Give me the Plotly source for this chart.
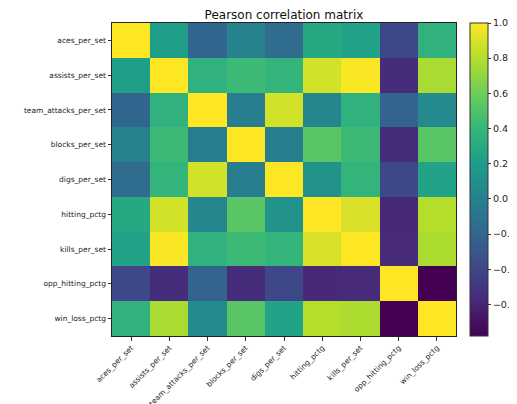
import plotly.graph_objects as go

labels = ["aces_per_set", "assists_per_set", "team_attacks_per_set", "blocks_per_set",
          "digs_per_set", "hitting_pctg", "kills_per_set", "opp_hitting_pctg", "win_loss_pctg"]

aces_per_set = [1.00, 0.22, -0.19, 0.02, -0.16, 0.29, 0.24, -0.39, 0.36]
assists_per_set = [0.22, 1.00, 0.36, 0.43, 0.38, 0.88, 0.99, -0.55, 0.77]
team_attacks_per_set = [-0.19, 0.36, 1.00, -0.03, 0.88, 0.04, 0.36, -0.21, 0.07]
blocks_per_set = [0.02, 0.43, -0.03, 1.00, -0.02, 0.53, 0.43, -0.55, 0.53]
digs_per_set = [-0.16, 0.38, 0.88, -0.02, 1.00, 0.13, 0.38, -0.39, 0.24]
hitting_pctg = [0.29, 0.88, 0.04, 0.53, 0.13, 1.00, 0.90, -0.58, 0.80]
kills_per_set = [0.24, 0.99, 0.36, 0.43, 0.38, 0.90, 1.00, -0.57, 0.78]
opp_hitting_pctg = [-0.39, -0.55, -0.21, -0.55, -0.39, -0.58, -0.57, 1.00, -0.78]
win_loss_pctg = [0.36, 0.77, 0.07, 0.53, 0.24, 0.80, 0.78, -0.78, 1.00]

matrix = [aces_per_set, assists_per_set, team_attacks_per_set, blocks_per_set,
          digs_per_set, hitting_pctg, kills_per_set, opp_hitting_pctg, win_loss_pctg]

cbar_ticks = [-0.6, -0.4, -0.2, 0.0, 0.2, 0.4, 0.6, 0.8, 1.0]

font_family = "DejaVu Sans"

fig = go.Figure(go.Heatmap(
    z=matrix, x=labels, y=labels,
    colorscale="Viridis", zmin=-0.78, zmax=1.0,
    xgap=0, ygap=0,
    colorbar=dict(
        x=1.04, xanchor="left", xref="paper", xpad=0, ypad=0,
        y=0, yanchor="bottom", len=1, lenmode="fraction",
        thickness=18, outlinewidth=1, outlinecolor="#333",
        tickvals=cbar_ticks, ticktext=[f"{v:.1f}".replace("-", "\u2212") for v in cbar_ticks],
        ticks="outside", ticklen=3, tickcolor="#333",
        tickfont=dict(family=font_family, size=9.5, color="#222"),
    ),
))

fig.update_layout(
    width=509, height=396,
    margin=dict(l=104, r=61, t=15, b=68, autoexpand=False),
    paper_bgcolor="white", plot_bgcolor="white",
    font=dict(family=font_family, color="#222"),
    title=dict(text="Pearson correlation matrix", x=0.5, xref="paper", xanchor="center",
               y=1 - 7 / 396, yref="container", yanchor="middle",
               font=dict(family=font_family, size=12, color="#111")),
)
fig.update_xaxes(
    tickangle=-45, tickfont=dict(family=font_family, size=7.5, color="#222"),
    ticks="outside", ticklen=3.5, tickcolor="#333",
    showline=True, linecolor="#222", linewidth=1, mirror=True, showgrid=False,
)
fig.update_yaxes(
    autorange="reversed", tickfont=dict(family=font_family, size=7.5, color="#222"),
    ticks="outside", ticklen=3.5, tickcolor="#333",
    showline=True, linecolor="#222", linewidth=1, mirror=True, showgrid=False,
)

fig.write_html("out.html")
